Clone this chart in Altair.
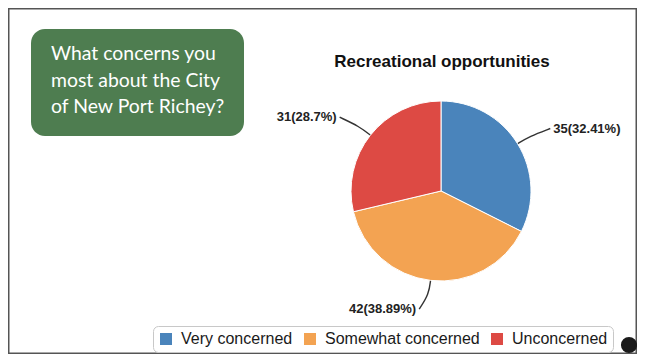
import math
import altair as alt
import pandas as pd

# ---- data ----
categories = ["Very concerned", "Somewhat concerned", "Unconcerned"]
counts = [35, 42, 31]
colors = ["#4a84bb", "#f3a352", "#dd4a44"]
question_lines = ["What concerns you", "most about the City", "of New Port Richey?"]
chart_title = "Recreational opportunities"

# ---- layout ----
W, H = 629, 346
CX, CY, R = 433, 183, 90
LABEL_R = 119
GREEN = "#4e7d50"
FONT = "Liberation Sans"

total = sum(counts)
pcts = [f"{round(100 * c / total, 2):g}" for c in counts]
labels = [f"{c}({p}%)" for c, p in zip(counts, pcts)]

sides = []
line_rows = []
cum = 0
for i, c in enumerate(counts):
    mid = (cum + c / 2) / total * 2 * math.pi
    cum += c
    s, co = math.sin(mid), math.cos(mid)
    side = "right" if s > 0 else "left"
    sides.append(side)
    sgn = 1 if side == "right" else -1
    pts = [
        (CX + (R - 1) * s, CY - (R - 1) * co),
        (CX + 104 * s, CY - 104 * co),
        (CX + LABEL_R * s + sgn * 8, CY - LABEL_R * co),
    ]
    for k, (px, py) in enumerate(pts):
        line_rows.append({"category": categories[i], "step": k, "px": px, "py": py})

df = pd.DataFrame({
    "category": categories,
    "count": counts,
    "idx": list(range(len(categories))),
    "label": labels,
    "side": sides,
})
lines_df = pd.DataFrame(line_rows)
one = pd.DataFrame({"a": [0]})

theta = alt.Theta("count:Q", stack=True)
order = alt.Order("idx:Q")

arc = alt.Chart(df).mark_arc(outerRadius=R, stroke="white", strokeWidth=1).encode(
    theta=theta,
    order=order,
    x=alt.value(CX),
    y=alt.value(CY),
    color=alt.Color(
        "category:N",
        scale=alt.Scale(domain=categories, range=colors),
        sort=categories,
        legend=alt.Legend(
            orient="none", legendX=145, legendY=318, direction="horizontal",
            title=None, symbolType="square", symbolSize=144, symbolStrokeWidth=0,
            symbolOpacity=1, labelFont=FONT, labelFontSize=16, labelColor="#1a1a1a",
            labelLimit=300, strokeColor="#c8c8c8", fillColor="white",
            cornerRadius=5, padding=5, columnPadding=9, labelOffset=7,
        ),
    ),
)

def label_layer(side, align, dx):
    return alt.Chart(df).mark_text(
        align=align, baseline="middle", dx=dx, radius=LABEL_R,
        font=FONT, fontSize=13, fontWeight="bold", color="#222",
    ).encode(
        theta=theta,
        order=order,
        x=alt.value(CX),
        y=alt.value(CY),
        text="label:N",
        opacity=alt.condition(alt.datum.side == side, alt.value(1), alt.value(0)),
    )

leaders = alt.Chart(lines_df).mark_line(
    interpolate="basis", color="#333", strokeWidth=1.4
).encode(
    x=alt.X("px:Q", scale=alt.Scale(domain=[0, W], nice=False, zero=False), axis=None),
    y=alt.Y("py:Q", scale=alt.Scale(domain=[H, 0], nice=False, zero=False), axis=None),
    detail="category:N",
    order="step:Q",
)

green_box = alt.Chart(one).mark_rect(cornerRadius=14, color=GREEN).encode(
    x=alt.value(23), x2=alt.value(236), y=alt.value(21), y2=alt.value(128)
)
green_text = alt.Chart(one).mark_text(
    align="left", baseline="alphabetic", font="Lato", fontSize=19.4,
    lineHeight=26.5, color="white",
).encode(x=alt.value(43), y=alt.value(52), text=alt.value(question_lines))

title_text = alt.Chart(one).mark_text(
    align="center", baseline="alphabetic", font=FONT, fontSize=17,
    fontWeight="bold", color="#111",
).encode(x=alt.value(434), y=alt.value(59), text=alt.value(chart_title))

dot = alt.Chart(one).mark_point(
    shape="circle", size=200, filled=True, fill="#1b1b1b", stroke="#1b1b1b", opacity=1
).encode(x=alt.value(621), y=alt.value(337))

chart = alt.layer(
    green_box, green_text, title_text, leaders, arc,
    label_layer("right", "left", 11), label_layer("left", "right", -11), dot,
).properties(
    width=W, height=H, padding=0, background="white",
    autosize=alt.AutoSizeParams(type="none"),
).configure_view(stroke="#555", strokeWidth=3)

chart.save("out.html", embed_options={"renderer": "svg", "actions": False})
